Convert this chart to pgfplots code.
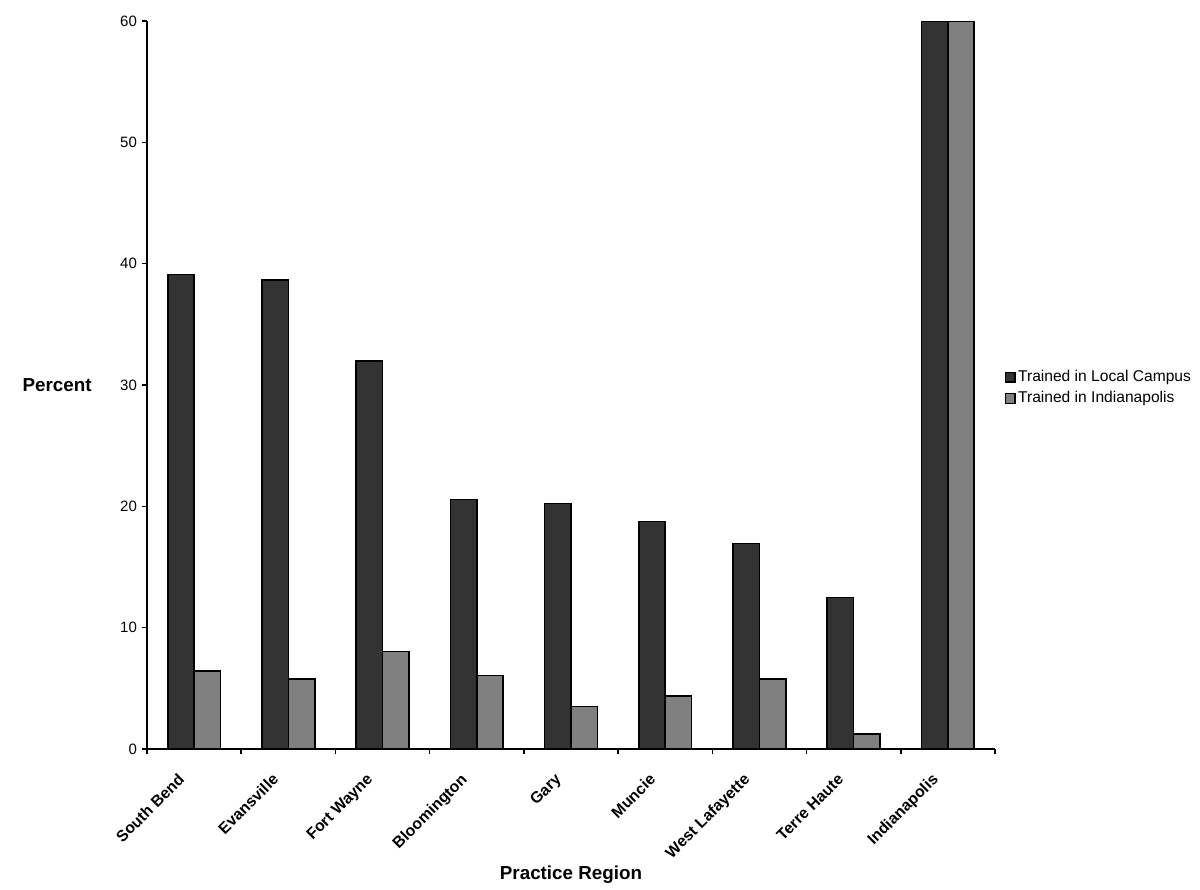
\documentclass[border=0pt]{standalone}
\usepackage{fontspec}
\setmainfont{Liberation Sans}
\usepackage{pgfplots}
\pgfplotsset{compat=1.18}
\definecolor{barDark}{HTML}{333333}
\definecolor{barLight}{HTML}{808080}

\begin{document}
\begin{tikzpicture}
\begin{axis}[
  at={(0,0)}, anchor=south west,
  scale only axis,
  width=424pt, height=364pt,
  xmin=-0.5, xmax=8.5,
  ymin=0, ymax=60,
  axis x line*=bottom,
  axis y line*=left,
  axis line style={line width=1pt, black},
  ytick={0,10,...,60},
  ytick style={line width=0.8pt, black},
  tick align=outside,
  major tick length=2.5pt,
  yticklabel style={font=\fontsize{7.5}{9}\selectfont, xshift=1pt},
  /pgf/number format/assume math mode=true,
  xtick={0,...,8},
  xtick style={draw=none},
  xticklabels={South Bend,Evansville,Fort Wayne,Bloomington,Gary,Muncie,West Lafayette,Terre Haute,Indianapolis},
  xticklabel style={font=\fontsize{7.9}{9}\selectfont\bfseries, xshift=-8.5pt, yshift=-9pt, rotate=45, anchor=north east, inner sep=0pt},
  extra x ticks={-0.5,0.5,...,8.5},
  extra x tick labels={},
  extra x tick style={xtick style={draw=black, line width=0.8pt}},
  ylabel={Percent},
  xlabel={Practice Region},
  every axis y label/.style={at={(axis description cs:-0.057,0.5)}, anchor=east, font=\fontsize{9.4}{11}\selectfont\bfseries},
  every axis x label/.style={at={(axis description cs:0.5,-0.172)}, anchor=center, font=\fontsize{9.4}{11}\selectfont\bfseries},
  legend style={at={(1.011,0.496)}, anchor=west, draw=none, fill=none,
    font=\fontsize{7.8}{9}\selectfont, row sep=1pt, inner sep=0pt,
    nodes={inner sep=1.3pt}},
  legend cell align=left,
  bar width=0.28,
]
\addplot[ybar, bar shift=-0.14, fill=barDark, draw=black, line width=0.8pt,
  legend image code/.code={\draw[fill=barDark, draw=black, line width=0.6pt] (0pt,-2.4pt) rectangle (4.8pt,2.4pt);}]
  coordinates {(0,39.1) (1,38.65) (2,32.0) (3,20.55) (4,20.25) (5,18.75) (6,16.95) (7,12.5) (8,60)};
\addlegendentry{Trained in Local Campus}
\addplot[ybar, bar shift=0.14, fill=barLight, draw=black, line width=0.8pt,
  legend image code/.code={\draw[fill=barLight, draw=black, line width=0.6pt] (0pt,-2.4pt) rectangle (4.8pt,2.4pt);}]
  coordinates {(0,6.45) (1,5.75) (2,8.05) (3,6.05) (4,3.5) (5,4.35) (6,5.75) (7,1.25) (8,60)};
\addlegendentry{Trained in Indianapolis}
\end{axis}
\useasboundingbox (-73.5pt,-69pt) rectangle (526.5pt,374.5pt);
\end{tikzpicture}
\end{document}
